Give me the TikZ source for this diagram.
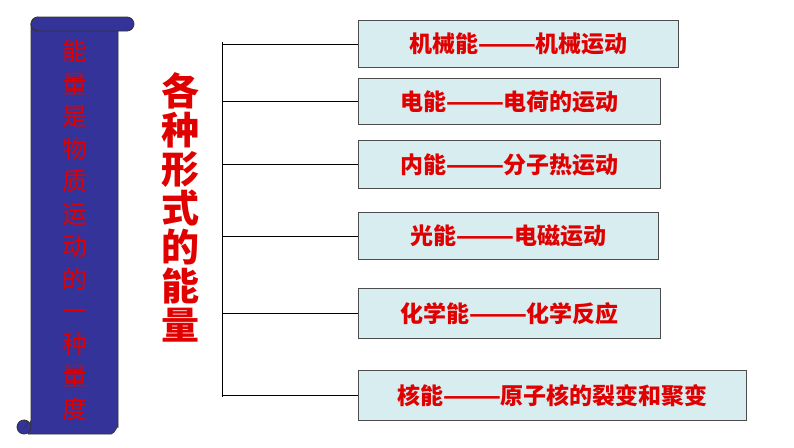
\documentclass[tikz,border=0pt]{standalone}
\usepackage{fontspec}
\newfontfamily\cjk{Noto Sans CJK SC}
\definecolor{scrollblue}{HTML}{333399}
\definecolor{boxfill}{HTML}{D7EDF0}
\definecolor{textred}{HTML}{E00000}
\begin{document}
\begin{tikzpicture}[x=1pt, y=-1pt,
      formbox/.style={draw=black!70, fill=boxfill, line width=1pt, inner sep=0pt,
        font=\cjk\bfseries\fontsize{23}{23}\selectfont, text=textred},
      branch/.style={draw, line width=1pt}
    ]
    \useasboundingbox (0,0) rectangle (794,447);

    % scroll
    \draw[fill=scrollblue, draw=black!80, line width=0.8pt]
        (31,24) -- (118,24) -- (118,427) to[out=90, in=0] (111,434) -- (28,434)
        -- (31,420) -- cycle;
    \draw[fill=scrollblue, draw=black!80, line width=0.8pt, rounded corners=7]
        (31,17) rectangle (134,31);
    \draw[draw=black!80, line width=0.6pt] (38,17) arc[start angle=-90, end angle=-270, radius=7];
    \draw[fill=scrollblue, draw=black!80, line width=0.8pt] (24,427) circle[radius=7];
    \draw[draw=black!80, line width=0.6pt] (24,420) arc[start angle=-90, end angle=90, radius=3.5];
    \node (motto) [text=textred, font=\cjk\fontsize{25}{32.5}\selectfont, align=center]
        at (75,230) {能\\量\\是\\物\\质\\运\\动\\的\\一\\种\\量\\度};

    % title
    \node (title) [text=textred, font=\cjk\bfseries\fontsize{38}{39}\selectfont, align=center]
        at (180,207) {各\\种\\形\\式\\的\\能\\量};

    % boxes
    \node (b1) [formbox, minimum width=320, minimum height=47, anchor=north west] at (358,20) {机械能———机械运动};
    \node (b2) [formbox, minimum width=302, minimum height=46, anchor=north west] at (358,78) {电能———电荷的运动};
    \node (b3) [formbox, minimum width=302, minimum height=48, anchor=north west] at (358,140) {内能———分子热运动};
    \node (b4) [formbox, minimum width=300, minimum height=47, anchor=north west] at (358,212) {光能———电磁运动};
    \node (b5) [formbox, minimum width=302, minimum height=50, anchor=north west] at (358,288) {化学能———化学反应};
    \node (b6) [formbox, minimum width=388, minimum height=50, anchor=north west] at (358,370) {核能———原子核的裂变和聚变};

    % connectors
    \coordinate (top) at (222,42);
    \coordinate (bottom) at (222,397);
    \draw[branch] (top) -- (bottom);
    \foreach \b in {b1,b2,b3,b4,b5,b6}
        \draw[branch] (\b.west) -- (top |- \b.west);
\end{tikzpicture}
\end{document}
